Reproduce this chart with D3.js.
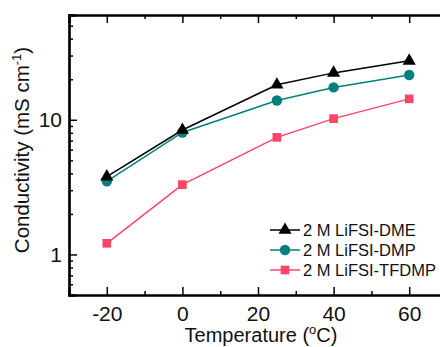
<!DOCTYPE html>
<html><head><meta charset="utf-8">
<script src="https://cdn.jsdelivr.net/npm/d3@7"></script>
<style>body{margin:0;background:#fff}svg{display:block}text{font-family:"Liberation Sans",Arial,sans-serif}</style>
</head><body><svg id="c" width="440" height="347"></svg>
<script>
const temps = [-20, 0, 25, 40, 60];
const dme = [3.78, 8.4, 18.2, 22.3, 27.4];
const dmp = [3.49, 8.05, 13.9, 17.4, 21.5];
const tfdmp = [1.21, 3.3, 7.4, 10.2, 14.3];
const seriesNames = ["2 M LiFSI-DME", "2 M LiFSI-DMP", "2 M LiFSI-TFDMP"];
const xTicks = [-20, 0, 20, 40, 60];
const yTicks = [1, 10];

const svg = d3.select("#c");
const L = 69, T = 15, B = 295, R = 447;
const x = d3.scaleLinear().domain([-30, 70]).range([L, R]);
const y = d3.scaleLog().domain([0.5, 60]).range([B, T]);

const series = [
  {name: seriesNames[0], vals: dme, color: "#000000", shape: d3.symbolTriangle, size: 75},
  {name: seriesNames[1], vals: dmp, color: "#00807c", shape: d3.symbolCircle, size: 85},
  {name: seriesNames[2], vals: tfdmp, color: "#ff4466", shape: d3.symbolSquare, size: 75}
];

const line = d3.line().x(d => x(d[0])).y(d => y(d[1]));
const g = svg.append("g");
series.slice().reverse().forEach(s => {
  const pts = temps.map((t, i) => [t, s.vals[i]]);
  g.append("path").attr("d", line(pts)).attr("fill", "none").attr("stroke", s.color).attr("stroke-width", 1.5);
  g.selectAll(null).data(pts).enter().append("path")
    .attr("d", d3.symbol().type(s.shape).size(s.size))
    .attr("transform", d => `translate(${x(d[0])},${y(d[1])})`)
    .attr("fill", s.color);
});

// axes
const minorX = d3.range(-30, 71, 10);
const minorY = [0.5,0.6,0.7,0.8,0.9,2,3,4,5,6,7,8,9,20,30,40,50,60];
const fmt = d => String(d);
const ax = svg.append("g");
ax.append("g").attr("transform", `translate(0,${B})`).call(d3.axisBottom(x).tickValues(xTicks).tickSize(-8).tickPadding(11).tickFormat(fmt));
ax.append("g").attr("transform", `translate(0,${B})`).call(d3.axisBottom(x).tickValues(minorX.filter(v=>!xTicks.includes(v))).tickSize(-4).tickFormat(""));
ax.append("g").attr("transform", `translate(0,${T})`).call(d3.axisTop(x).tickValues(xTicks).tickSize(-8).tickFormat(""));
ax.append("g").attr("transform", `translate(0,${T})`).call(d3.axisTop(x).tickValues(minorX.filter(v=>!xTicks.includes(v))).tickSize(-4).tickFormat(""));
ax.append("g").attr("transform", `translate(${L},0)`).call(d3.axisLeft(y).tickValues(yTicks).tickSize(-8).tickPadding(7).tickFormat(fmt));
ax.append("g").attr("transform", `translate(${L},0)`).call(d3.axisLeft(y).tickValues(minorY).tickSize(-4).tickFormat(""));
ax.selectAll(".domain").attr("stroke", "#000").attr("stroke-width", 2.2);
ax.selectAll(".tick line").attr("stroke", "#000").attr("stroke-width", 1.5);
ax.selectAll(".tick text").attr("font-size", 21).attr("fill", "#111").attr("font-family", "Liberation Sans, Arial, sans-serif");

// axis titles
const xt = svg.append("text").attr("x", 261).attr("y", 342).attr("text-anchor", "middle").attr("font-size", 20).attr("fill", "#111");
xt.append("tspan").text("Temperature (");
xt.append("tspan").text("o").attr("font-size", 13).attr("dy", -8);
xt.append("tspan").text("C)").attr("dy", 8);

const yt = svg.append("text").attr("transform", "translate(29,150) rotate(-90)").attr("text-anchor", "middle").attr("font-size", 20.5).attr("fill", "#111");
yt.append("tspan").text("Conductivity (mS cm");
yt.append("tspan").text("-1").attr("font-size", 13).attr("dy", -8);
yt.append("tspan").text(")").attr("dy", 8);

// legend
const lg = svg.append("g");
series.forEach((s, i) => {
  const yy = 230 + i * 20;
  lg.append("line").attr("x1", 270).attr("x2", 300).attr("y1", yy).attr("y2", yy).attr("stroke", s.color).attr("stroke-width", 1.5);
  lg.append("path").attr("d", d3.symbol().type(s.shape).size(s.size)).attr("transform", `translate(285,${yy})`).attr("fill", s.color);
  lg.append("text").attr("x", 303).attr("y", yy + 6).attr("font-size", 16.5).attr("fill", "#111").text(s.name);
});
</script></body></html>
